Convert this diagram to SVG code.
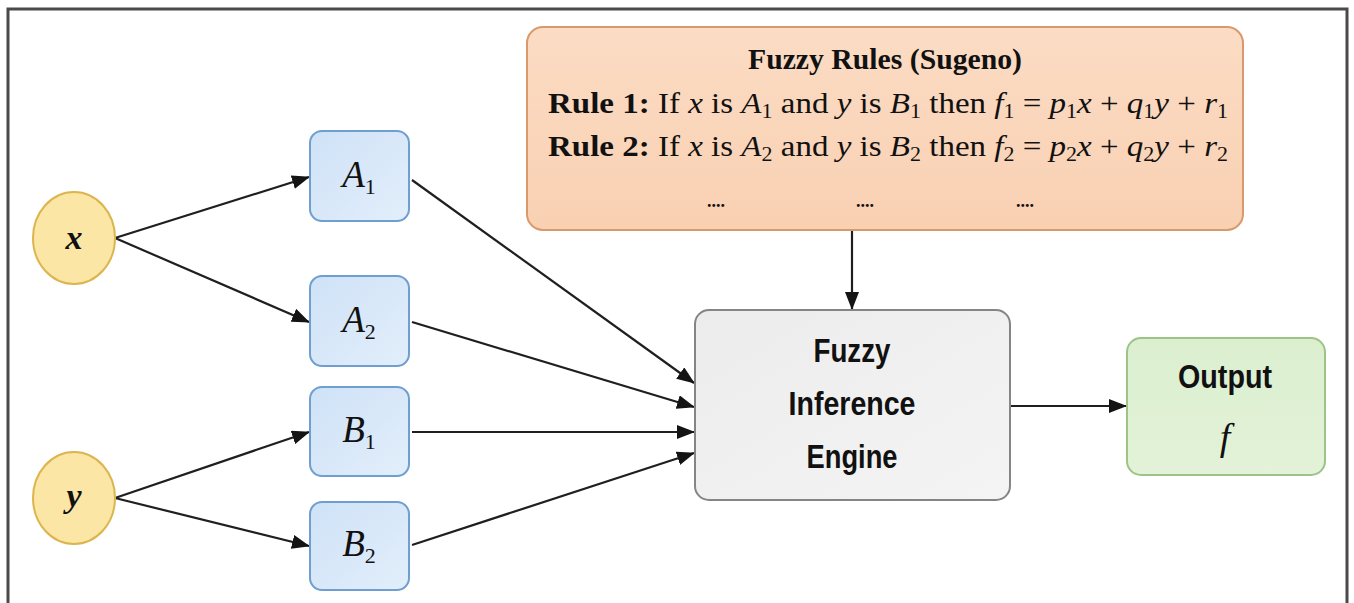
<svg xmlns="http://www.w3.org/2000/svg" width="1354" height="603" viewBox="0 0 1354 603">
<defs>
<marker id="ah" viewBox="0 0 18 14" refX="17" refY="7" markerWidth="18" markerHeight="14" markerUnits="userSpaceOnUse" orient="auto">
<path d="M0,0 L18,7 L0,14 z" fill="#141414"/>
</marker>
<linearGradient id="gBlue" x1="0" y1="0" x2="1" y2="1"><stop offset="0" stop-color="#cfe2f7"/><stop offset="1" stop-color="#e2eefb"/></linearGradient>
<linearGradient id="gPeach" x1="0" y1="0" x2="0" y2="1"><stop offset="0" stop-color="#fbdcc4"/><stop offset="1" stop-color="#f9d0b2"/></linearGradient>
<linearGradient id="gGray" x1="0" y1="0" x2="1" y2="1"><stop offset="0" stop-color="#ececec"/><stop offset="1" stop-color="#f4f4f4"/></linearGradient>
<linearGradient id="gGreen" x1="0" y1="0" x2="0" y2="1"><stop offset="0" stop-color="#dbefcf"/><stop offset="1" stop-color="#e3f2d8"/></linearGradient>
</defs>
<style>
.circ{fill:#fbe6a6;stroke:#dcb54f;stroke-width:2}
.mf{fill:url(#gBlue);stroke:#6f9fd0;stroke-width:2}
.conn{stroke:#1f1f1f;stroke-width:2.2;fill:none;marker-end:url(#ah)}
.serif{font-family:"Liberation Serif","Times New Roman",serif;fill:#111}
.sans{font-family:"Liberation Sans",Arial,sans-serif;fill:#111}
.it{font-style:italic}
.b{font-weight:bold}
</style>
<rect x="0" y="0" width="1354" height="603" fill="#ffffff"/>
<path d="M8,603 V9 H1347 V603" fill="none" stroke="#4a4a4a" stroke-width="3"/>

<g id="connectors">
<line class="conn" x1="115" y1="238" x2="309" y2="177"/>
<line class="conn" x1="115" y1="238" x2="309" y2="322"/>
<line class="conn" x1="115" y1="498" x2="309" y2="432"/>
<line class="conn" x1="115" y1="498" x2="309" y2="546"/>
<line class="conn" x1="412" y1="180" x2="694" y2="383"/>
<line class="conn" x1="412" y1="322" x2="694" y2="407"/>
<line class="conn" x1="412" y1="432" x2="694" y2="432"/>
<line class="conn" x1="412" y1="545" x2="694" y2="453"/>
<line class="conn" x1="852" y1="230" x2="852" y2="309"/>
<line class="conn" x1="1010" y1="406" x2="1126" y2="406"/>
</g>

<g id="node-x">
<ellipse class="circ" cx="74" cy="238" rx="41" ry="46"/>
<text class="serif b it" x="74" y="249" font-size="34" text-anchor="middle">x</text>
</g>
<g id="node-y">
<ellipse class="circ" cx="74" cy="498" rx="41" ry="46"/>
<text class="serif b it" x="74" y="507" font-size="34" text-anchor="middle">y</text>
</g>

<g id="node-A1">
<rect class="mf" x="310" y="131" width="99" height="90" rx="12"/>
<text class="serif" x="359" y="187" font-size="37" text-anchor="middle"><tspan class="it">A</tspan><tspan font-size="22" dy="7">1</tspan></text>
</g>
<g id="node-A2">
<rect class="mf" x="310" y="276" width="99" height="90" rx="12"/>
<text class="serif" x="359" y="332" font-size="37" text-anchor="middle"><tspan class="it">A</tspan><tspan font-size="22" dy="7">2</tspan></text>
</g>
<g id="node-B1">
<rect class="mf" x="310" y="387" width="99" height="89" rx="12"/>
<text class="serif" x="359" y="442" font-size="37" text-anchor="middle"><tspan class="it">B</tspan><tspan font-size="22" dy="7">1</tspan></text>
</g>
<g id="node-B2">
<rect class="mf" x="310" y="502" width="99" height="88" rx="12"/>
<text class="serif" x="359" y="556" font-size="37" text-anchor="middle"><tspan class="it">B</tspan><tspan font-size="22" dy="7">2</tspan></text>
</g>

<g id="node-rules">
<rect x="527" y="27" width="716" height="203" rx="16" fill="url(#gPeach)" stroke="#d89a6c" stroke-width="2"/>
<text class="serif b" x="885" y="69" font-size="30" text-anchor="middle" textLength="274" lengthAdjust="spacingAndGlyphs">Fuzzy Rules (Sugeno)</text>
<text class="serif" x="548" y="113" font-size="30" textLength="680" lengthAdjust="spacingAndGlyphs"><tspan class="b">Rule 1:</tspan> If <tspan class="it">x</tspan> is <tspan class="it">A</tspan><tspan font-size="20" dy="5">1</tspan><tspan dy="-5"> and </tspan><tspan class="it">y</tspan> is <tspan class="it">B</tspan><tspan font-size="20" dy="5">1</tspan><tspan dy="-5"> then </tspan><tspan class="it">f</tspan><tspan font-size="20" dy="5">1</tspan><tspan dy="-5"> = </tspan><tspan class="it">p</tspan><tspan font-size="20" dy="5">1</tspan><tspan class="it" dy="-5">x</tspan> + <tspan class="it">q</tspan><tspan font-size="20" dy="5">1</tspan><tspan class="it" dy="-5">y</tspan> + <tspan class="it">r</tspan><tspan font-size="20" dy="5">1</tspan></text>
<text class="serif" x="548" y="156" font-size="30" textLength="680" lengthAdjust="spacingAndGlyphs"><tspan class="b">Rule 2:</tspan> If <tspan class="it">x</tspan> is <tspan class="it">A</tspan><tspan font-size="20" dy="5">2</tspan><tspan dy="-5"> and </tspan><tspan class="it">y</tspan> is <tspan class="it">B</tspan><tspan font-size="20" dy="5">2</tspan><tspan dy="-5"> then </tspan><tspan class="it">f</tspan><tspan font-size="20" dy="5">2</tspan><tspan dy="-5"> = </tspan><tspan class="it">p</tspan><tspan font-size="20" dy="5">2</tspan><tspan class="it" dy="-5">x</tspan> + <tspan class="it">q</tspan><tspan font-size="20" dy="5">2</tspan><tspan class="it" dy="-5">y</tspan> + <tspan class="it">r</tspan><tspan font-size="20" dy="5">2</tspan></text>
<text class="serif b" x="716" y="207" font-size="18" text-anchor="middle">....</text>
<text class="serif b" x="865" y="207" font-size="18" text-anchor="middle">....</text>
<text class="serif b" x="1025" y="207" font-size="18" text-anchor="middle">....</text>
</g>

<g id="node-engine">
<rect x="695" y="310" width="315" height="190" rx="14" fill="url(#gGray)" stroke="#858585" stroke-width="2"/>
<text class="sans b" x="852" y="362" font-size="33" text-anchor="middle" textLength="77" lengthAdjust="spacingAndGlyphs">Fuzzy</text>
<text class="sans b" x="852" y="415" font-size="33" text-anchor="middle" textLength="127" lengthAdjust="spacingAndGlyphs">Inference</text>
<text class="sans b" x="852" y="468" font-size="33" text-anchor="middle" textLength="91" lengthAdjust="spacingAndGlyphs">Engine</text>
</g>

<g id="node-output">
<rect x="1127" y="338" width="198" height="137" rx="14" fill="url(#gGreen)" stroke="#9cc486" stroke-width="2"/>
<text class="sans b" x="1225" y="388" font-size="33" text-anchor="middle" textLength="94" lengthAdjust="spacingAndGlyphs">Output</text>
<text class="serif it" x="1225" y="450" font-size="38" text-anchor="middle">f</text>
</g>
</svg>
